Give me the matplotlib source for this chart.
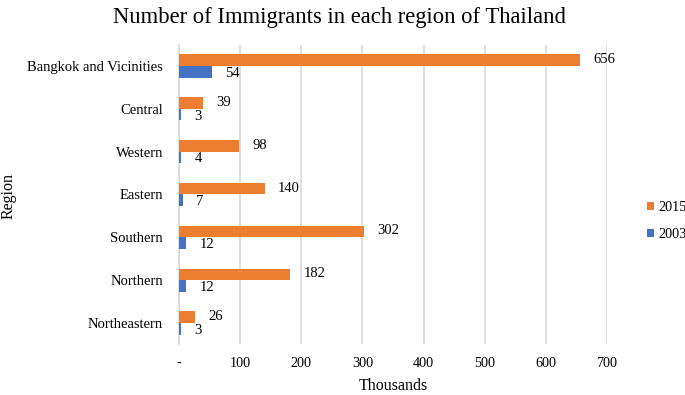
import matplotlib.pyplot as plt
import numpy as np

regions = ["Bangkok and Vicinities", "Central", "Western", "Eastern",
           "Southern", "Northern", "Northeastern"]
y2015 = [656, 39, 98, 140, 302, 182, 26]
y2003 = [54, 3, 4, 7, 12, 12, 3]
xticks = [0, 100, 200, 300, 400, 500, 600, 700]
xticklabels = ["-", "100", "200", "300", "400", "500", "600", "700"]

plt.rcParams['font.family'] = ['Liberation Serif', 'DejaVu Serif']

orange = "#ED7D31"
blue = "#4472C4"

fig = plt.figure(figsize=(6.85, 3.95), dpi=100)
# plot area: x 179..607 px, y 44.6..344.4 px
ax = fig.add_axes([179 / 685, 1 - 344.4 / 395, 428 / 685, 299.8 / 395])

pos = np.arange(len(regions))[::-1]
h = 0.27
b1 = ax.barh(pos + h / 2, y2015, height=h, color=orange, label="2015", zorder=3)
b2 = ax.barh(pos - h / 2, y2003, height=h, color=blue, label="2003", zorder=3)

for bar, v in zip(b1, y2015):
    ax.annotate(str(v), (bar.get_width(), bar.get_y() + bar.get_height() / 2),
                xytext=(9.5, 0.5), textcoords="offset points", va="center", ha="left",
                fontsize=10.5)
for bar, v in zip(b2, y2003):
    ax.annotate(str(v), (bar.get_width(), bar.get_y() + bar.get_height() / 2),
                xytext=(9.5, -1), textcoords="offset points", va="center", ha="left",
                fontsize=10.5)

ax.set_xlim(0, 700)
ax.set_ylim(-0.5, len(regions) - 0.5)
ax.set_xticks(xticks)
ax.set_xticklabels(xticklabels)
ax.set_yticks(pos)
ax.set_yticklabels(regions)
ax.tick_params(length=0, labelsize=10.5)
ax.tick_params(axis='y', pad=11.5)
ax.tick_params(axis='x', pad=9, labelsize=10.2)
ax.grid(axis='x', color="#d9d9d9", linewidth=1.2, zorder=0)
for s in ["top", "right", "bottom"]:
    ax.spines[s].set_visible(False)
ax.spines["left"].set_color("#d9d9d9")
ax.spines["left"].set_linewidth(1.2)

ax.set_xlabel("Thousands", fontsize=11.5, labelpad=6)
fig.text(9 / 685, 1 - 196 / 395, "Region", fontsize=11.5, rotation=90,
         ha="center", va="center")
fig.text(0.496, 1 - 17 / 395, "Number of Immigrants in each region of Thailand",
         fontsize=16.3, ha="center", va="center")

fig.legend(handles=[b1, b2], loc="center left", bbox_to_anchor=(0.944, 0.44),
           frameon=False, fontsize=10.3, handlelength=0.5, handleheight=0.5,
           handletextpad=0.3, labelspacing=1.0, borderpad=0, borderaxespad=0)

fig.savefig("out.png", dpi=100)
